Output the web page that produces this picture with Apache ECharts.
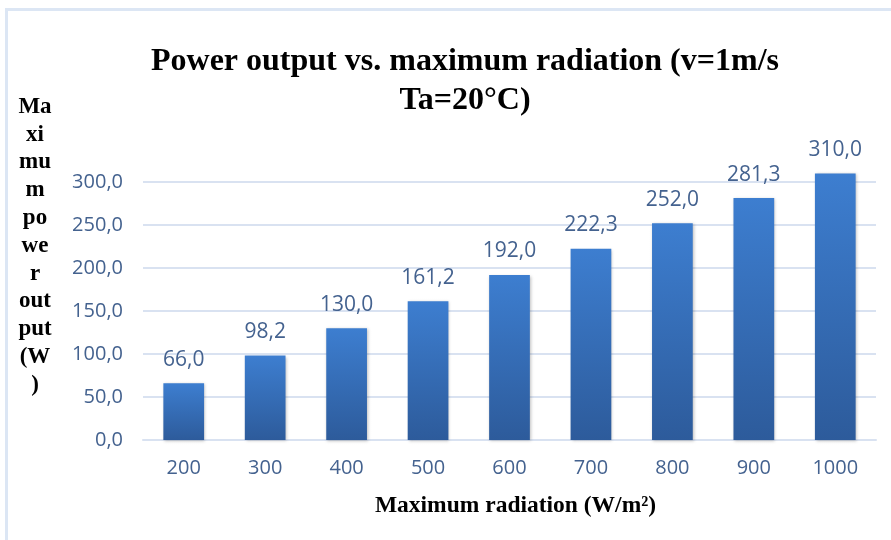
<!DOCTYPE html>
<html>
<head>
<meta charset="utf-8">
<script src="https://cdn.jsdelivr.net/npm/echarts@6/dist/echarts.min.js"></script>
<style>
  html, body { margin: 0; padding: 0; background: #fff; }
  #chart { width: 891px; height: 540px; }
</style>
</head>
<body>
<div id="chart"></div>
<script>
const categories = ['200', '300', '400', '500', '600', '700', '800', '900', '1000'];
const powerValues = [66.0, 98.2, 130.0, 161.2, 192.0, 222.3, 252.0, 281.3, 310.0];
const titleLines = ['Power output vs. maximum radiation (v=1m/s', 'Ta=20°C)'];
const yAxisNameLines = ['Ma', 'xi', 'mu', 'm', 'po', 'we', 'r', 'out', 'put', '(W', ')'];
const xAxisName = 'Maximum radiation (W/m²)';

const fmt = v => Number(v).toFixed(1).replace('.', ',');
const tickColor = '#44628f';
const gridColor = '#d9e2f1';

const chart = echarts.init(document.getElementById('chart'), null, { renderer: 'canvas' });
chart.setOption({
  animation: false,
  backgroundColor: '#ffffff',
  title: {
    text: titleLines.join('\n'),
    left: 460,
    textAlign: 'center',
    top: 37,
    textStyle: {
      fontFamily: '"Liberation Serif", "Times New Roman", serif',
      fontWeight: 'bold',
      fontSize: 32,
      lineHeight: 39,
      color: '#000'
    }
  },
  graphic: [
    { type: 'rect', shape: { x: 5, y: 8, width: 900, height: 3 }, style: { fill: '#dce6f4' }, silent: true },
    { type: 'rect', shape: { x: 5, y: 8, width: 3, height: 540 }, style: { fill: '#dce6f4' }, silent: true },
    {
      type: 'text',
      silent: true,
      style: {
        x: 35,
        y: 93,
        text: yAxisNameLines.join('\n'),
        fontFamily: '"Liberation Serif", "Times New Roman", serif',
        fontWeight: 'bold',
        fontSize: 23,
        lineHeight: 27.8,
        align: 'center',
        verticalAlign: 'top',
        fill: '#000'
      }
    }
  ],
  grid: { left: 143, right: 15, top: 182, bottom: 100 },
  xAxis: {
    type: 'category',
    data: categories,
    name: xAxisName,
    nameLocation: 'middle',
    nameGap: 54,
    nameTextStyle: {
      fontFamily: '"Liberation Serif", "Times New Roman", serif',
      fontWeight: 'bold',
      fontSize: 23.5,
      color: '#000',
      padding: [0, 0, 0, 12]
    },
    axisLine: { show: true, lineStyle: { color: gridColor, width: 2 } },
    axisTick: { show: false },
    axisLabel: {
      margin: 18,
      fontFamily: '"Open Sans", "Noto Sans", sans-serif',
      fontSize: 20,
      color: tickColor
    }
  },
  yAxis: {
    type: 'value',
    min: 0,
    max: 300,
    interval: 50,
    axisLine: { show: false },
    axisTick: { show: false },
    splitLine: { lineStyle: { color: gridColor, width: 2 } },
    axisLabel: {
      margin: 20,
      fontFamily: '"Open Sans", "Noto Sans", sans-serif',
      fontSize: 20,
      color: tickColor,
      formatter: fmt
    }
  },
  series: [{
    type: 'bar',
    data: powerValues,
    barWidth: '50%',
    clip: false,
    itemStyle: {
      color: new echarts.graphic.LinearGradient(0, 0, 0, 1, [
        { offset: 0, color: '#3d7ed0' },
        { offset: 1, color: '#2d5b9b' }
      ]),
      shadowColor: 'rgba(0,0,0,0.25)',
      shadowBlur: 3,
      shadowOffsetX: 1,
      shadowOffsetY: 1
    },
    label: {
      show: true,
      position: 'top',
      distance: 13,
      fontFamily: '"Open Sans", "Noto Sans", sans-serif',
      fontSize: 21,
      color: tickColor,
      formatter: p => fmt(p.value)
    }
  }]
});
</script>
</body>
</html>
